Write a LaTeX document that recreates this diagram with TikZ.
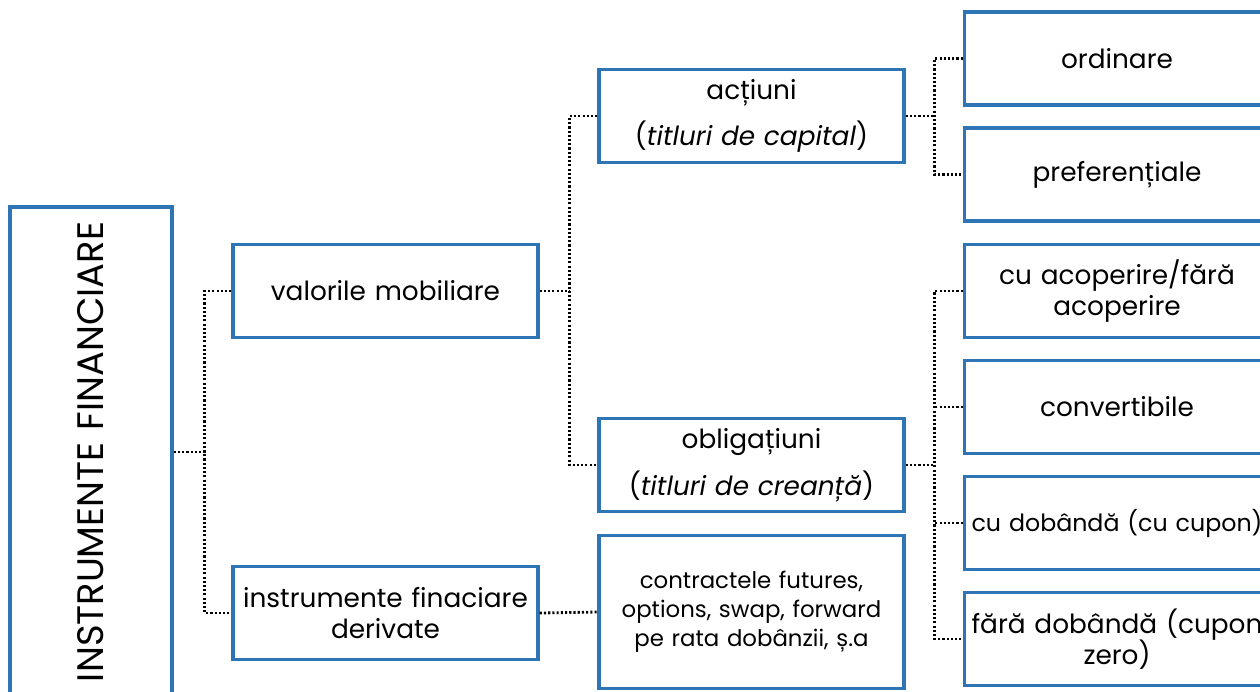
\documentclass[tikz,border=0pt]{standalone}
\usepackage{fontspec}
\setmainfont{Poppins}
\usepackage{tikz}
\definecolor{boxblue}{RGB}{46,117,182}
\tikzset{
  box/.style={draw=boxblue, line width=2pt, fill=white, minimum width=6.1cm,
    minimum height=1.86cm, text width=5.9cm, align=center, inner sep=2pt,
    font=\fontsize{15}{18}\selectfont},
  link/.style={line width=1.6pt, dash pattern=on 1.2pt off 1.2pt},
}

\begin{document}
\begin{tikzpicture}[x=0.02cm, y=-0.02cm]
\useasboundingbox (0,0) rectangle (1260,691);
\node[box, text width=3cm, minimum width=3.24cm, minimum height=9.8cm, font=\fontsize{21}{24}\selectfont] (instr) at (91,452) {\rotatebox{90}{INSTRUMENTE FINANCIARE}};
\node[box] (val) at (385.5,291) {valorile mobiliare};
\node[box] (der) at (385.5,613) {instrumente finaciare\\derivate};
\node[box] (act) at (751.5,116) {acțiuni\\[8pt](\textit{titluri de capital})};
\node[box] (obl) at (751.5,465) {obligațiuni\\[8pt](\textit{titluri de creanță})};
\node[box, minimum height=3.06cm, font=\fontsize{13}{16.5}\selectfont] (contr) at (751.5,612) {contractele futures,\\options, swap, forward\\pe rata dobânzii, ș.a};
\node[box] (ord) at (1117,58.5) {ordinare};
\node[box] (pref) at (1117,174.5) {preferențiale};
\node[box] (acop) at (1117,291) {cu acoperire/fără\\acoperire};
\node[box] (conv) at (1117,407) {convertibile};
\node[box, font=\fontsize{13.5}{18}\selectfont] (dob) at (1117,523) {cu dobândă (cu cupon)};
\node[box] (fara) at (1117,639) {fără dobândă (cupon\\zero)};

\draw[link] (instr.east) -- ++(31,0) coordinate (j1);
\draw[link] (val.west) -| (j1) |- (der.west);
\draw[link] (val.east) -- ++(30,0) coordinate (j2);
\draw[link] (act.west) -| (j2) |- (obl.west);
\draw[link] (der.east) -- (contr.west);
\draw[link] (act.east) -- ++(29,0) coordinate (j3);
\draw[link] (ord.west) -| (j3) |- (pref.west);
\draw[link] (obl.east) -- ++(29,0) coordinate (j4);
\draw[link] (acop.west) -| (j4) |- (fara.west);
\draw[link] (conv.west) -- (conv.west -| j4);
\draw[link] (dob.west) -- (dob.west -| j4);
\end{tikzpicture}
\end{document}
